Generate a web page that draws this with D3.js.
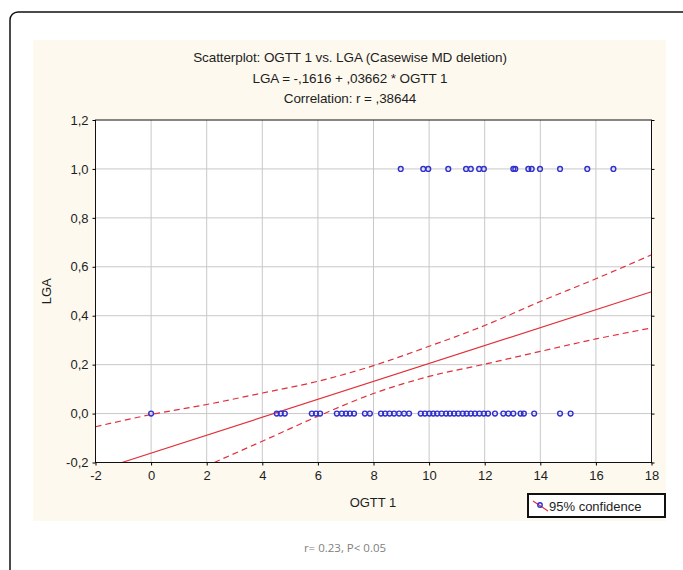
<!DOCTYPE html>
<html><head><meta charset="utf-8">
<script src="https://cdn.jsdelivr.net/npm/d3@7"></script>
<style>body{margin:0;background:#fff;}svg{display:block;}</style>
</head><body>
<script>
// ---- data ----
const titleLines = ["Scatterplot: OGTT 1 vs. LGA (Casewise MD deletion)", "LGA = -,1616 + ,03662 * OGTT 1", "Correlation: r = ,38644"];
const xLabel = "OGTT 1";
const yLabel = "LGA";
const legendLabel = "95% confidence";
const footnote = "r= 0.23, P< 0.05";
const xTicks = [-2, 0, 2, 4, 6, 8, 10, 12, 14, 16, 18];
const yTicks = [-0.2, 0.0, 0.2, 0.4, 0.6, 0.8, 1.0, 1.2];
const lgaZeroX = [0, 4.52, 4.66, 4.81, 5.78, 5.93, 6.08, 6.68, 6.86, 7.01, 7.15, 7.3, 7.69, 7.87,
  8.27, 8.42, 8.58, 8.74, 8.92, 9.1, 9.28, 9.7, 9.85, 10.01, 10.15, 10.29, 10.45, 10.61, 10.75,
  10.9, 11.05, 11.21, 11.35, 11.5, 11.65, 11.81, 11.97, 12.12, 12.37, 12.67, 12.85, 13.03, 13.29,
  13.41, 13.78, 14.71, 15.09];
const lgaOneX = [8.98, 9.79, 9.97, 10.69, 11.33, 11.5, 11.8, 11.97, 13.03, 13.1, 13.57, 13.69, 13.99, 14.71, 15.69, 16.63];
const fitIntercept = -0.1616, fitSlope = 0.03662;
const bandX = [-2, 0, 2, 4, 6, 8, 10, 12, 14, 16, 18];
const bandUpper = [-0.054, -0.004, 0.037, 0.084, 0.132, 0.196, 0.275, 0.36, 0.458, 0.551, 0.649];
const bandLower = [-0.416, -0.32, -0.214, -0.113, -0.011, 0.082, 0.152, 0.202, 0.254, 0.305, 0.35];

// ---- layout ----
const W = 683, H = 570;
const svg = d3.select("body").append("svg").attr("width", W).attr("height", H);
const font = "'Liberation Sans', Arial, sans-serif";
const ink = "#1e1e1e";

// outer frame
svg.append("rect").attr("x", 10).attr("y", 12).attr("width", 690).attr("height", 600)
  .attr("rx", 8).attr("fill", "#fff").attr("stroke", "#111").attr("stroke-width", 1.5);
// panel
svg.append("rect").attr("x", 33).attr("y", 40).attr("width", 633).attr("height", 481).attr("fill", "#fdf9ee");

const x = d3.scaleLinear().domain([-2, 18]).range([95.5, 651.5]);
const y = d3.scaleLinear().domain([-0.2, 1.2]).range([462.5, 120]);

svg.append("rect").attr("x", x(-2)).attr("y", y(1.2)).attr("width", x(18) - x(-2)).attr("height", y(-0.2) - y(1.2)).attr("fill", "#fff");

// grid
const g = svg.append("g");
g.selectAll(".gx").data(xTicks.slice(1, -1)).join("line")
  .attr("x1", d => x(d)).attr("x2", d => x(d)).attr("y1", y(1.2)).attr("y2", y(-0.2))
  .attr("stroke", "#c8c8c8").attr("stroke-width", 1);
g.selectAll(".gy").data(yTicks.slice(1, -1)).join("line")
  .attr("y1", d => y(d)).attr("y2", d => y(d)).attr("x1", x(-2)).attr("x2", x(18))
  .attr("stroke", "#c8c8c8").attr("stroke-width", 1);

// clip
svg.append("clipPath").attr("id", "clip").append("rect")
  .attr("x", x(-2)).attr("y", y(1.2)).attr("width", x(18) - x(-2)).attr("height", y(-0.2) - y(1.2));
const pl = svg.append("g").attr("clip-path", "url(#clip)");

const red = "#e0303a";
const lineGen = d3.line().x(d => x(d[0])).y(d => y(d[1])).curve(d3.curveMonotoneX);
pl.append("path").datum(bandX.map((v, i) => [v, bandUpper[i]])).attr("d", lineGen)
  .attr("fill", "none").attr("stroke", red).attr("stroke-width", 1.2).attr("stroke-dasharray", "6,4");
pl.append("path").datum(bandX.map((v, i) => [v, bandLower[i]])).attr("d", lineGen)
  .attr("fill", "none").attr("stroke", red).attr("stroke-width", 1.2).attr("stroke-dasharray", "6,4");
pl.append("path").datum([[-2, fitIntercept + fitSlope * -2], [18, fitIntercept + fitSlope * 18]]).attr("d", d3.line().x(d => x(d[0])).y(d => y(d[1])))
  .attr("fill", "none").attr("stroke", red).attr("stroke-width", 1.1);

// points
const pts = lgaZeroX.map(v => [v, 0]).concat(lgaOneX.map(v => [v, 1]));
svg.append("g").selectAll("circle").data(pts).join("circle")
  .attr("cx", d => x(d[0])).attr("cy", d => y(d[1])).attr("r", 2.4)
  .attr("fill", "none").attr("stroke", "#3030d0").attr("stroke-width", 1.4);

// axes frame
svg.append("rect").attr("x", x(-2)).attr("y", y(1.2)).attr("width", x(18) - x(-2)).attr("height", y(-0.2) - y(1.2))
  .attr("fill", "none").attr("stroke", "#111").attr("stroke-width", 1);

// axes
const xAxis = d3.axisBottom(x).tickValues(xTicks).tickSize(3).tickFormat(d => String(d));
const ax = svg.append("g").attr("transform", `translate(0,${y(-0.2)})`).call(xAxis);
ax.select(".domain").remove();
ax.selectAll("text").attr("font-family", font).attr("font-size", 13).attr("fill", ink).attr("dy", "0.85em");
const fmtY = d => d3.format(".1f")(d).replace(".", ",").replace("−", "-");
const yAxis = d3.axisLeft(y).tickValues(yTicks).tickSize(3).tickFormat(fmtY);
const ay = svg.append("g").attr("transform", `translate(${x(-2)},0)`).call(yAxis);
ay.select(".domain").remove();
ay.selectAll("text").attr("font-family", font).attr("font-size", 13).attr("fill", ink).attr("x", -7);
const yAxisR = d3.axisRight(y).tickValues(yTicks).tickSize(3).tickFormat("");
const ayr = svg.append("g").attr("transform", `translate(${x(18)},0)`).call(yAxisR);
ayr.select(".domain").remove();

// titles
svg.append("g").selectAll("text").data(titleLines).join("text")
  .attr("x", 350).attr("y", (d, i) => 62 + i * 20.5).attr("text-anchor", "middle")
  .attr("font-family", font).attr("font-size", 13.5).attr("fill", ink).attr("letter-spacing", "-0.1")
  .text(d => d);
svg.append("text").attr("x", 373).attr("y", 507).attr("text-anchor", "middle")
  .attr("font-family", font).attr("font-size", 13).attr("fill", ink).text(xLabel);
svg.append("text").attr("transform", `translate(51,${(y(1.2) + y(-0.2)) / 2}) rotate(-90)`).attr("text-anchor", "middle")
  .attr("font-family", font).attr("font-size", 13).attr("fill", ink).text(yLabel);

// legend
const lg = svg.append("g").attr("transform", "translate(528,494)");
lg.append("rect").attr("width", 137).attr("height", 23).attr("fill", "#fff").attr("stroke", "#111").attr("stroke-width", 2);
lg.append("line").attr("x1", 5).attr("y1", 7).attr("x2", 20).attr("y2", 17).attr("stroke", red).attr("stroke-width", 1.2);
lg.append("circle").attr("cx", 12).attr("cy", 11).attr("r", 2.2).attr("fill", "none").attr("stroke", "#3030d0").attr("stroke-width", 1.4);
lg.append("text").attr("x", 21).attr("y", 16.5).attr("font-family", font).attr("font-size", 13).attr("fill", ink).text(legendLabel);

// footnote
svg.append("text").attr("x", 345).attr("y", 552).attr("text-anchor", "middle")
  .attr("font-family", "'Open Sans', sans-serif").attr("font-size", 11.5).attr("fill", "#808080").text(footnote);
</script>
</body></html>
